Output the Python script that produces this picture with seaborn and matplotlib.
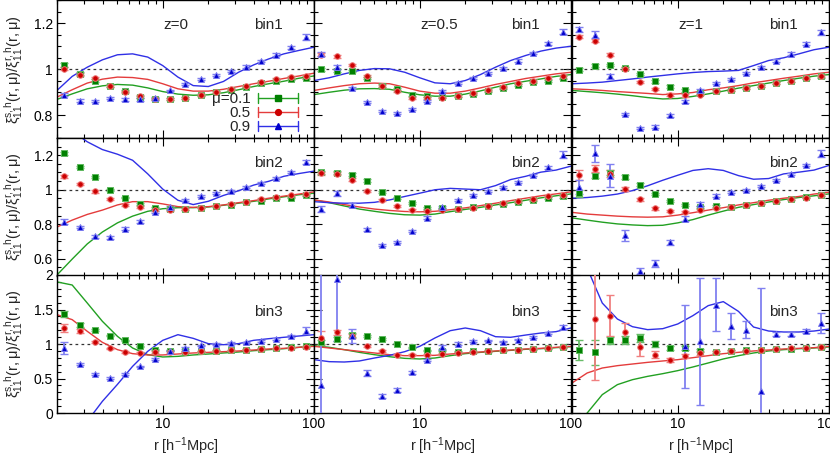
import numpy as np
import pandas as pd
import matplotlib
matplotlib.use('Agg')
import matplotlib.pyplot as plt
import seaborn as sns
from matplotlib.lines import Line2D
from matplotlib.legend_handler import HandlerBase
from matplotlib.ticker import FixedLocator, MultipleLocator, NullFormatter, FuncFormatter

sns.set_style('ticks')
plt.rcParams['font.family'] = ['Liberation Sans', 'DejaVu Sans']
plt.rcParams['mathtext.default'] = 'regular'

# ---------------- data ----------------
r_pts = [2.24, 2.82, 3.55, 4.47, 5.62, 7.08, 8.91, 11.2, 14.1, 17.8, 22.4, 28.2, 35.5, 44.7, 56.2, 70.8, 89.1]
r_mod = [2.0, 2.52, 3.17, 3.99, 5.02, 6.32, 7.96, 10.0, 12.6, 15.9, 20.0, 25.2, 31.7, 39.9, 50.2, 63.2, 79.6, 100.0]
mu_labels = ['\u03bc=0.1', '0.5', '0.9']
z_labels = ['z=0', 'z=0.5', 'z=1']
bin_labels = ['bin1', 'bin2', 'bin3']

# z=0, bin1
g_z0_b1 = [1.020, 0.981, 0.952, 0.930, 0.905, 0.880, 0.871, 0.872, 0.877, 0.890, 0.901, 0.913, 0.926, 0.941, 0.951, 0.958, 0.964]
r_z0_b1 = [1.004, 0.978, 0.962, 0.929, 0.903, 0.883, 0.871, 0.872, 0.877, 0.890, 0.901, 0.914, 0.930, 0.946, 0.957, 0.967, 0.971]
b_z0_b1 = [0.890, 0.865, 0.864, 0.875, 0.870, 0.870, 0.877, 0.909, 0.936, 0.958, 0.977, 0.993, 1.013, 1.036, 1.064, 1.097, 1.141]
ge_z0_b1 = [0.008, 0.006, 0.005, 0.005, 0.005, 0.005, 0.004, 0.004, 0.004, 0.004, 0.004, 0.004, 0.004, 0.005, 0.005, 0.005, 0.006]
re_z0_b1 = [0.007, 0.006, 0.005, 0.005, 0.005, 0.005, 0.004, 0.004, 0.004, 0.004, 0.004, 0.004, 0.004, 0.005, 0.005, 0.005, 0.006]
be_z0_b1 = [0.006, 0.005, 0.005, 0.005, 0.005, 0.005, 0.005, 0.004, 0.004, 0.004, 0.004, 0.004, 0.005, 0.005, 0.006, 0.007, 0.012]
mg_z0_b1 = [0.870, 0.894, 0.916, 0.929, 0.935, 0.932, 0.920, 0.904, 0.893, 0.888, 0.890, 0.899, 0.912, 0.926, 0.938, 0.949, 0.962, 0.972]
mr_z0_b1 = [0.880, 0.912, 0.941, 0.958, 0.967, 0.965, 0.957, 0.938, 0.916, 0.906, 0.906, 0.914, 0.926, 0.938, 0.949, 0.961, 0.972, 0.984]
mb_z0_b1 = [0.909, 0.970, 1.010, 1.042, 1.064, 1.068, 1.054, 1.017, 0.967, 0.930, 0.926, 0.948, 0.988, 1.020, 1.046, 1.068, 1.083, 1.097]

# z=0.5, bin1
g_z05_b1 = [1.000, 0.994, 0.993, 0.964, 0.930, 0.916, 0.891, 0.883, 0.880, 0.884, 0.894, 0.906, 0.919, 0.933, 0.945, 0.949, 0.964]
r_z05_b1 = [1.065, 1.058, 1.020, 0.972, 0.929, 0.906, 0.877, 0.877, 0.878, 0.886, 0.897, 0.912, 0.923, 0.941, 0.952, 0.962, 0.970]
b_z05_b1 = [1.068, 1.010, 0.920, 0.858, 0.819, 0.810, 0.828, 0.862, 0.906, 0.941, 0.962, 0.984, 1.007, 1.039, 1.072, 1.114, 1.165]
ge_z05_b1 = [0.007, 0.006, 0.006, 0.005, 0.005, 0.005, 0.005, 0.004, 0.004, 0.004, 0.004, 0.004, 0.004, 0.005, 0.005, 0.005, 0.006]
re_z05_b1 = [0.008, 0.007, 0.006, 0.005, 0.005, 0.005, 0.005, 0.004, 0.004, 0.004, 0.004, 0.004, 0.004, 0.005, 0.005, 0.005, 0.006]
be_z05_b1 = [0.008, 0.008, 0.006, 0.005, 0.005, 0.005, 0.005, 0.005, 0.005, 0.004, 0.004, 0.004, 0.005, 0.005, 0.006, 0.007, 0.012]
mg_z05_b1 = [0.891, 0.901, 0.910, 0.916, 0.917, 0.914, 0.901, 0.890, 0.884, 0.884, 0.893, 0.907, 0.923, 0.938, 0.949, 0.959, 0.970, 0.978]
mr_z05_b1 = [0.909, 0.920, 0.930, 0.938, 0.941, 0.938, 0.923, 0.906, 0.897, 0.897, 0.906, 0.920, 0.935, 0.948, 0.961, 0.971, 0.981, 0.988]
mb_z05_b1 = [0.952, 0.964, 0.981, 0.996, 1.004, 1.003, 0.988, 0.964, 0.942, 0.938, 0.952, 0.978, 1.010, 1.039, 1.061, 1.080, 1.093, 1.101]

# z=1, bin1
g_z1_b1 = [0.999, 1.016, 1.020, 1.007, 0.981, 0.948, 0.926, 0.909, 0.897, 0.906, 0.912, 0.920, 0.929, 0.941, 0.952, 0.964, 0.970]
r_z1_b1 = [1.143, 1.126, 1.064, 1.004, 0.946, 0.914, 0.891, 0.887, 0.891, 0.906, 0.910, 0.920, 0.930, 0.941, 0.952, 0.964, 0.972]
b_z1_b1 = [1.174, 1.151, 0.970, 0.807, 0.745, 0.752, 0.800, 0.861, 0.909, 0.941, 0.959, 0.984, 1.010, 1.039, 1.068, 1.112, 1.161]
ge_z1_b1 = [0.007, 0.007, 0.006, 0.006, 0.005, 0.005, 0.005, 0.005, 0.004, 0.004, 0.004, 0.004, 0.004, 0.005, 0.005, 0.005, 0.006]
re_z1_b1 = [0.008, 0.008, 0.006, 0.005, 0.005, 0.005, 0.005, 0.005, 0.004, 0.004, 0.004, 0.004, 0.004, 0.005, 0.005, 0.005, 0.006]
be_z1_b1 = [0.010, 0.015, 0.012, 0.006, 0.005, 0.005, 0.005, 0.005, 0.005, 0.004, 0.004, 0.004, 0.005, 0.005, 0.006, 0.007, 0.012]
mg_z1_b1 = [0.909, 0.904, 0.899, 0.893, 0.886, 0.878, 0.872, 0.874, 0.883, 0.894, 0.906, 0.919, 0.930, 0.941, 0.952, 0.962, 0.971, 0.978]
mr_z1_b1 = [0.916, 0.913, 0.909, 0.904, 0.900, 0.896, 0.891, 0.894, 0.900, 0.912, 0.920, 0.930, 0.942, 0.952, 0.962, 0.971, 0.981, 0.988]
mb_z1_b1 = [0.938, 0.941, 0.945, 0.952, 0.959, 0.967, 0.974, 0.981, 0.987, 0.991, 0.993, 0.996, 1.017, 1.039, 1.051, 1.068, 1.086, 1.097]

# z=0, bin2
g_z0_b2 = [1.212, 1.131, 1.073, 0.998, 0.955, 0.918, 0.896, 0.886, 0.888, 0.896, 0.904, 0.914, 0.927, 0.937, 0.951, 0.955, 0.969]
r_z0_b2 = [1.078, 1.035, 0.990, 0.945, 0.910, 0.898, 0.882, 0.882, 0.888, 0.896, 0.908, 0.920, 0.931, 0.945, 0.959, 0.967, 0.976]
b_z0_b2 = [0.814, 0.784, 0.729, 0.725, 0.775, 0.816, 0.871, 0.902, 0.939, 0.965, 0.980, 0.994, 1.014, 1.039, 1.069, 1.104, 1.161]
ge_z0_b2 = [0.008, 0.007, 0.006, 0.006, 0.005, 0.005, 0.005, 0.005, 0.004, 0.004, 0.004, 0.004, 0.004, 0.005, 0.005, 0.005, 0.006]
re_z0_b2 = [0.008, 0.007, 0.006, 0.006, 0.005, 0.005, 0.005, 0.005, 0.004, 0.004, 0.004, 0.004, 0.004, 0.005, 0.005, 0.005, 0.006]
be_z0_b2 = [0.015, 0.008, 0.008, 0.008, 0.007, 0.006, 0.006, 0.005, 0.005, 0.005, 0.005, 0.005, 0.005, 0.006, 0.006, 0.007, 0.012]
mg_z0_b2 = [0.506, 0.598, 0.686, 0.755, 0.808, 0.847, 0.875, 0.890, 0.896, 0.896, 0.900, 0.910, 0.922, 0.933, 0.947, 0.959, 0.971, 0.980]
mr_z0_b2 = [0.784, 0.824, 0.857, 0.882, 0.912, 0.931, 0.931, 0.918, 0.902, 0.898, 0.902, 0.912, 0.925, 0.937, 0.951, 0.963, 0.975, 0.988]
mb_z0_b2 = [1.450, 1.340, 1.278, 1.233, 1.206, 1.171, 1.092, 1.004, 0.939, 0.914, 0.933, 0.967, 0.994, 1.027, 1.049, 1.078, 1.094, 1.108]

# z=0.5, bin2
g_z05_b2 = [1.100, 1.098, 1.088, 1.053, 0.988, 0.951, 0.922, 0.896, 0.892, 0.888, 0.898, 0.908, 0.918, 0.931, 0.941, 0.951, 0.961]
r_z05_b2 = [1.095, 1.094, 1.059, 0.994, 0.941, 0.906, 0.882, 0.878, 0.882, 0.888, 0.896, 0.908, 0.922, 0.933, 0.947, 0.961, 0.971]
b_z05_b2 = [0.888, 0.980, 0.912, 0.771, 0.680, 0.698, 0.761, 0.839, 0.902, 0.941, 0.971, 0.994, 1.014, 1.043, 1.084, 1.129, 1.204]
ge_z05_b2 = [0.010, 0.009, 0.008, 0.007, 0.006, 0.005, 0.005, 0.005, 0.005, 0.004, 0.004, 0.004, 0.005, 0.005, 0.005, 0.005, 0.006]
re_z05_b2 = [0.010, 0.009, 0.008, 0.007, 0.006, 0.005, 0.005, 0.005, 0.005, 0.004, 0.004, 0.004, 0.005, 0.005, 0.005, 0.005, 0.006]
be_z05_b2 = [0.015, 0.015, 0.010, 0.008, 0.007, 0.007, 0.007, 0.006, 0.006, 0.005, 0.005, 0.005, 0.005, 0.006, 0.006, 0.008, 0.020]
mg_z05_b2 = [0.941, 0.925, 0.906, 0.888, 0.875, 0.863, 0.855, 0.853, 0.859, 0.873, 0.886, 0.898, 0.912, 0.925, 0.939, 0.953, 0.965, 0.976]
mr_z05_b2 = [0.941, 0.929, 0.914, 0.900, 0.888, 0.880, 0.874, 0.872, 0.875, 0.884, 0.895, 0.908, 0.922, 0.937, 0.951, 0.965, 0.976, 0.988]
mb_z05_b2 = [0.931, 0.925, 0.922, 0.922, 0.927, 0.941, 0.961, 0.980, 1.000, 1.008, 1.004, 1.000, 1.024, 1.059, 1.078, 1.102, 1.114, 1.137]

# z=1, bin2
g_z1_b2 = [0.980, 1.082, 1.098, 1.075, 1.029, 0.975, 0.935, 0.912, 0.898, 0.906, 0.902, 0.912, 0.925, 0.935, 0.945, 0.957, 0.969]
r_z1_b2 = [1.084, 1.122, 1.092, 1.004, 0.945, 0.892, 0.876, 0.873, 0.882, 0.892, 0.898, 0.912, 0.925, 0.935, 0.945, 0.955, 0.969]
b_z1_b2 = [1.016, 1.212, 1.082, 0.735, 0.529, 0.573, 0.696, 0.833, 0.918, 0.965, 0.986, 1.000, 1.024, 1.059, 1.092, 1.143, 1.210]
ge_z1_b2 = [0.020, 0.015, 0.015, 0.010, 0.008, 0.007, 0.006, 0.006, 0.005, 0.005, 0.005, 0.005, 0.005, 0.005, 0.005, 0.005, 0.006]
re_z1_b2 = [0.030, 0.020, 0.020, 0.010, 0.008, 0.007, 0.006, 0.006, 0.005, 0.005, 0.005, 0.005, 0.005, 0.005, 0.005, 0.005, 0.006]
be_z1_b2 = [0.040, 0.050, 0.065, 0.030, 0.020, 0.020, 0.015, 0.015, 0.012, 0.008, 0.006, 0.005, 0.006, 0.006, 0.007, 0.008, 0.020]
mg_z1_b2 = [0.837, 0.824, 0.812, 0.802, 0.796, 0.792, 0.794, 0.808, 0.827, 0.853, 0.876, 0.898, 0.914, 0.929, 0.943, 0.955, 0.965, 0.976]
mr_z1_b2 = [0.869, 0.859, 0.853, 0.847, 0.843, 0.841, 0.843, 0.853, 0.867, 0.882, 0.896, 0.912, 0.925, 0.939, 0.951, 0.961, 0.975, 0.986]
mb_z1_b2 = [0.951, 0.955, 0.963, 0.975, 0.995, 1.023, 1.055, 1.084, 1.112, 1.122, 1.112, 1.082, 1.061, 1.065, 1.092, 1.102, 1.114, 1.141]

# z=0, bin3
g_z0_b3 = [1.435, 1.280, 1.208, 1.121, 1.053, 0.966, 0.918, 0.903, 0.894, 0.894, 0.899, 0.908, 0.918, 0.928, 0.937, 0.952, 0.966]
r_z0_b3 = [1.232, 1.184, 1.024, 0.937, 0.884, 0.874, 0.884, 0.884, 0.889, 0.894, 0.899, 0.908, 0.918, 0.928, 0.937, 0.947, 0.957]
b_z0_b3 = [0.942, 0.710, 0.565, 0.507, 0.565, 0.676, 0.783, 0.903, 0.942, 0.981, 1.000, 1.014, 1.024, 1.048, 1.072, 1.111, 1.193]
ge_z0_b3 = [0.040, 0.030, 0.015, 0.012, 0.010, 0.010, 0.008, 0.008, 0.008, 0.008, 0.008, 0.008, 0.008, 0.008, 0.008, 0.008, 0.010]
re_z0_b3 = [0.060, 0.030, 0.015, 0.012, 0.010, 0.010, 0.008, 0.008, 0.008, 0.008, 0.008, 0.008, 0.008, 0.008, 0.008, 0.008, 0.010]
be_z0_b3 = [0.090, 0.020, 0.015, 0.015, 0.015, 0.012, 0.012, 0.010, 0.010, 0.010, 0.010, 0.010, 0.010, 0.012, 0.012, 0.015, 0.050]
mg_z0_b3 = [1.900, 1.855, 1.594, 1.329, 1.111, 0.942, 0.845, 0.812, 0.821, 0.841, 0.855, 0.870, 0.884, 0.903, 0.918, 0.932, 0.952, 0.976]
mr_z0_b3 = [1.425, 1.353, 1.184, 1.024, 0.918, 0.860, 0.841, 0.841, 0.855, 0.870, 0.879, 0.889, 0.899, 0.913, 0.928, 0.937, 0.952, 0.966]
mb_z0_b3 = [-1.000, -0.600, -0.120, 0.169, 0.415, 0.676, 0.894, 1.053, 1.135, 1.082, 1.005, 0.990, 1.005, 1.053, 1.077, 1.097, 1.116, 1.135]

# z=0.5, bin3
g_z05_b3 = [1.024, 1.072, 1.126, 1.111, 1.072, 1.005, 0.952, 0.908, 0.903, 0.889, 0.894, 0.899, 0.908, 0.918, 0.928, 0.937, 0.952]
r_z05_b3 = [1.087, 1.169, 1.121, 0.976, 0.903, 0.845, 0.845, 0.845, 0.855, 0.870, 0.884, 0.899, 0.908, 0.918, 0.932, 0.942, 0.957]
b_z05_b3 = [0.411, 1.947, 1.111, 0.580, 0.242, 0.338, 0.589, 0.773, 0.952, 1.005, 1.039, 1.053, 1.034, 1.063, 1.101, 1.159, 1.246]
ge_z05_b3 = [0.030, 0.030, 0.030, 0.015, 0.012, 0.010, 0.010, 0.008, 0.008, 0.008, 0.008, 0.008, 0.008, 0.008, 0.008, 0.008, 0.010]
re_z05_b3 = [0.100, 0.040, 0.030, 0.015, 0.012, 0.010, 0.010, 0.008, 0.008, 0.008, 0.008, 0.008, 0.008, 0.008, 0.008, 0.008, 0.010]
be_z05_b3 = [1.700, 0.910, 0.100, 0.050, 0.030, 0.030, 0.020, 0.015, 0.030, 0.020, 0.015, 0.012, 0.012, 0.012, 0.012, 0.015, 0.030]
mg_z05_b3 = [0.976, 0.952, 0.918, 0.879, 0.845, 0.816, 0.792, 0.783, 0.797, 0.831, 0.860, 0.879, 0.894, 0.908, 0.923, 0.932, 0.947, 0.961]
mr_z05_b3 = [0.966, 0.942, 0.918, 0.894, 0.870, 0.845, 0.831, 0.831, 0.836, 0.855, 0.870, 0.884, 0.899, 0.913, 0.928, 0.937, 0.952, 0.966]
mb_z05_b3 = [0.773, 0.744, 0.739, 0.754, 0.797, 0.836, 0.889, 0.966, 1.087, 1.193, 1.232, 1.193, 1.106, 1.097, 1.130, 1.159, 1.179, 1.232]

# z=1, bin3
nan = float('nan')
g_z1_b3 = [0.908, 0.879, 1.053, 1.053, 1.092, 1.000, 0.937, 0.937, 0.903, 0.889, 0.899, 0.908, 0.908, 0.928, 0.932, 0.942, 0.957]
r_z1_b3 = [nan, 1.362, 1.411, 1.169, 0.952, 0.845, 0.773, 0.821, 0.870, 0.879, 0.894, 0.903, 0.908, 0.928, 0.937, 0.947, 0.957]
b_z1_b3 = [nan, nan, nan, nan, nan, nan, nan, 0.966, 1.039, 1.570, 1.266, 1.208, 0.314, 1.145, 1.145, 1.193, 1.304]
ge_z1_b3 = [0.145, 0.180, 0.050, 0.060, 0.060, 0.050, 0.030, 0.030, 0.020, 0.015, 0.015, 0.012, 0.012, 0.010, 0.010, 0.010, 0.010]
re_z1_b3 = [nan, 0.880, 0.300, 0.140, 0.120, 0.050, 0.030, 0.030, 0.030, 0.020, 0.015, 0.012, 0.012, 0.010, 0.010, 0.010, 0.010]
be_z1_b3 = [nan, nan, nan, nan, nan, nan, nan, 0.600, 0.920, 0.380, 0.190, 0.120, 1.500, 0.030, 0.030, 0.030, 0.150]
mg_z1_b3 = [-0.240, 0.000, 0.266, 0.411, 0.483, 0.531, 0.570, 0.614, 0.667, 0.725, 0.783, 0.831, 0.870, 0.899, 0.918, 0.932, 0.942, 0.957]
mr_z1_b3 = [0.435, 0.580, 0.652, 0.686, 0.710, 0.734, 0.754, 0.773, 0.802, 0.831, 0.860, 0.879, 0.899, 0.913, 0.928, 0.937, 0.947, 0.966]
mb_z1_b3 = [2.600, 2.100, 1.594, 1.362, 1.251, 1.208, 1.222, 1.290, 1.411, 1.556, 1.614, 1.473, 1.246, 1.188, 1.174, 1.174, 1.188, 1.217]

# ---------------- style ----------------
pt_col = ['#008000', '#cc0000', '#0000cc']
halo_col = ['#5fb85f', '#ee7777', '#7777ee']
err_col = ['#66bb66', '#f08080', '#8080f0']
line_col = ['#22a022', '#e43c3c', '#3030e6']
markers = ['s', 'o', '^']
msizes = [15, 16, 18]

panels = [
    [(g_z0_b1, ge_z0_b1, r_z0_b1, re_z0_b1, b_z0_b1, be_z0_b1, mg_z0_b1, mr_z0_b1, mb_z0_b1),
     (g_z05_b1, ge_z05_b1, r_z05_b1, re_z05_b1, b_z05_b1, be_z05_b1, mg_z05_b1, mr_z05_b1, mb_z05_b1),
     (g_z1_b1, ge_z1_b1, r_z1_b1, re_z1_b1, b_z1_b1, be_z1_b1, mg_z1_b1, mr_z1_b1, mb_z1_b1)],
    [(g_z0_b2, ge_z0_b2, r_z0_b2, re_z0_b2, b_z0_b2, be_z0_b2, mg_z0_b2, mr_z0_b2, mb_z0_b2),
     (g_z05_b2, ge_z05_b2, r_z05_b2, re_z05_b2, b_z05_b2, be_z05_b2, mg_z05_b2, mr_z05_b2, mb_z05_b2),
     (g_z1_b2, ge_z1_b2, r_z1_b2, re_z1_b2, b_z1_b2, be_z1_b2, mg_z1_b2, mr_z1_b2, mb_z1_b2)],
    [(g_z0_b3, ge_z0_b3, r_z0_b3, re_z0_b3, b_z0_b3, be_z0_b3, mg_z0_b3, mr_z0_b3, mb_z0_b3),
     (g_z05_b3, ge_z05_b3, r_z05_b3, re_z05_b3, b_z05_b3, be_z05_b3, mg_z05_b3, mr_z05_b3, mb_z05_b3),
     (g_z1_b3, ge_z1_b3, r_z1_b3, re_z1_b3, b_z1_b3, be_z1_b3, mg_z1_b3, mr_z1_b3, mb_z1_b3)],
]

row_ylim = [(0.7, 1.3), (0.5, 1.3), (0.0, 2.0)]
row_major = [[0.8, 1.0, 1.2], [0.6, 0.8, 1.0, 1.2], [0.0, 0.5, 1.0, 1.5, 2.0]]
row_minor = [0.05, 0.05, 0.1]
bin_y = [0.82, 0.82, 0.73]

W, H = 830, 461
fig = plt.figure(figsize=(W / 100, H / 100), dpi=100)
lefts = [57, 314, 572]
tops = [0.5, 138, 275]
pw, ph = 257, 138

class ErrBarHandler(HandlerBase):
    def create_artists(self, legend, orig_handle, xdescent, ydescent, width, height, fontsize, trans):
        c = orig_handle.get_color()
        y = height / 2.0 - ydescent
        x0, x1 = -xdescent, width - xdescent
        cap = 0.3 * fontsize
        arts = [Line2D([x0, x1], [y, y], color=c, lw=1.0),
                Line2D([x0, x0], [y - cap, y + cap], color=c, lw=1.0),
                Line2D([x1, x1], [y - cap, y + cap], color=c, lw=1.0),
                Line2D([(x0 + x1) / 2], [y], marker=orig_handle.get_marker(), ms=4.2,
                       mfc=orig_handle.get_markerfacecolor(), mec=orig_handle.get_markerfacecolor(), lw=0)]
        for a in arts:
            a.set_transform(trans)
        return arts

fmt = FuncFormatter(lambda v, p: ('%g' % v))

for i in range(3):
    for j in range(3):
        ax = fig.add_axes([lefts[j] / W, 1 - (tops[i] + ph) / H, pw / W, ph / H])
        data = panels[i][j]
        ax.axhline(1.0, color='#333333', lw=0.9, ls=(0, (2.2, 2.6)), zorder=1)
        # model curves
        for k, mv in enumerate([data[6], data[7], data[8]]):
            dfm = pd.DataFrame({'r': r_mod, 'v': mv})
            sns.lineplot(data=dfm, x='r', y='v', ax=ax, color=line_col[k], lw=1.0,
                         estimator=None, sort=False, legend=False, zorder=2)
        # measurements
        for k in range(3):
            vals = data[2 * k]
            errs = data[2 * k + 1]
            ax.errorbar(r_pts, vals, yerr=errs, fmt='none', ecolor=err_col[k], elinewidth=1.3,
                        capsize=2.6, capthick=1.0, zorder=3)
            dfp = pd.DataFrame({'r': r_pts, 'v': vals}).dropna()
            sns.scatterplot(data=dfp, x='r', y='v', ax=ax, marker=markers[k], s=msizes[k],
                            color=pt_col[k], edgecolor=halo_col[k], linewidth=0.7, zorder=4, legend=False)
        ax.set_xscale('log')
        ax.set_xlim(2, 100)
        ax.set_ylim(*row_ylim[i])
        ax.xaxis.set_major_locator(FixedLocator([10, 100]))
        ax.xaxis.set_minor_locator(FixedLocator([2, 3, 4, 5, 6, 7, 8, 9, 20, 30, 40, 50, 60, 70, 80, 90]))
        ax.xaxis.set_minor_formatter(NullFormatter())
        ax.yaxis.set_major_locator(FixedLocator(row_major[i]))
        ax.yaxis.set_minor_locator(MultipleLocator(row_minor[i]))
        ax.yaxis.set_major_formatter(fmt)
        ax.xaxis.set_major_formatter(FuncFormatter(lambda v, p: '%d' % round(v)))
        ax.tick_params(which='both', direction='in', top=True, right=True, width=0.8,
                       labelsize=10, colors='black', pad=3)
        ax.tick_params(which='major', length=5.5)
        ax.tick_params(which='minor', length=3)
        for s in ax.spines.values():
            s.set_linewidth(1.0)
            s.set_color('black')
        if i < 2:
            ax.tick_params(axis='x', labelbottom=False)
            ax.set_xlabel('')
        else:
            ax.set_xlabel('r [h$^{-1}$Mpc]', fontsize=10.5, labelpad=3)
        if j > 0:
            ax.tick_params(axis='y', labelleft=False)
            ax.set_ylabel('')
        else:
            ax.set_ylabel(r'$\xi^{s,h}_{11}(r,\mu)/\xi^{r,h}_{11}(r,\mu)$', fontsize=10.5)
            ax.yaxis.set_label_coords(-0.168, 0.5)
            ax.yaxis.label.set_va('center')
        if i == 0:
            ax.text(0.412, 0.82, z_labels[j], transform=ax.transAxes, ha='left', va='center', fontsize=11)
        ax.text(0.767, bin_y[i], bin_labels[i], transform=ax.transAxes, ha='left', va='center', fontsize=11)
        if i == 0 and j == 0:
            handles = [Line2D([], [], color=line_col[k], marker=markers[k], mfc=pt_col[k]) for k in range(3)]
            ax.legend(handles, mu_labels, handler_map={Line2D: ErrBarHandler()}, loc='lower right',
                      bbox_to_anchor=(0.938, 0.03), borderaxespad=0, borderpad=0, frameon=False,
                      handlelength=2.6, handletextpad=0.5, labelspacing=0.0, fontsize=11,
                      markerfirst=False)

fig.savefig('out.png', dpi=100)
